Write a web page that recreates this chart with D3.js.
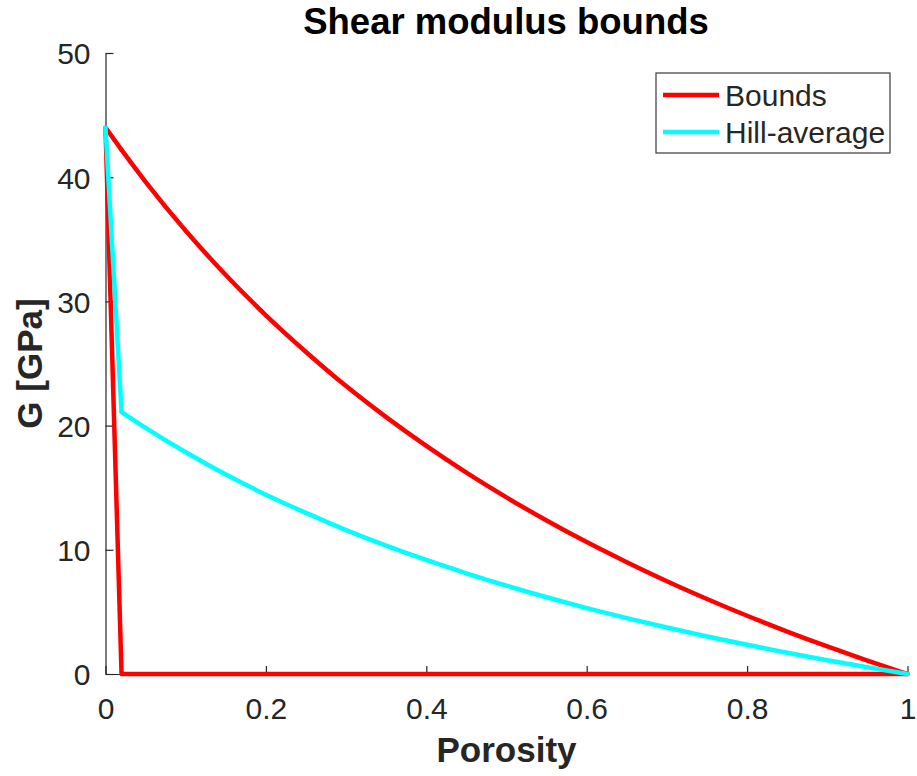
<!DOCTYPE html>
<html>
<head>
<meta charset="utf-8">
<script src="https://cdn.jsdelivr.net/npm/d3@7"></script>
<style>
  html, body { margin: 0; padding: 0; background: #fff; }
  svg { display: block; font-family: "Liberation Sans", Arial, Helvetica, sans-serif; }
</style>
</head>
<body>
<svg id="chart" width="917" height="776"></svg>
<script>
// Porosity samples and shear modulus values (GPa)
const porosity = [0, 0.02, 0.05, 0.1, 0.15, 0.2, 0.25, 0.3, 0.35, 0.4, 0.45, 0.5,
                  0.55, 0.6, 0.65, 0.7, 0.75, 0.8, 0.85, 0.9, 0.95, 1];
const upperBound = [44.00, 42.20, 39.63, 35.69, 32.12, 28.88, 25.93, 23.18, 20.68, 18.36, 16.21, 14.22,
                    12.36, 10.62, 9.00, 7.47, 6.04, 4.69, 3.42, 2.22, 1.08, 0];
const hillAverage = [44.00, 21.10, 19.82, 17.85, 16.06, 14.44, 12.97, 11.59, 10.34, 9.18, 8.11, 7.11,
                     6.18, 5.31, 4.50, 3.74, 3.02, 2.35, 1.71, 1.11, 0.54, 0];
const lowerPorosity = [0, 0.02, 1];
const lowerBound = [44.0, 0, 0];

const xTicks = [0, 0.2, 0.4, 0.6, 0.8, 1];
const yTicks = [0, 10, 20, 30, 40, 50];
const legendLabels = ["Bounds", "Hill-average"];
const seriesColors = ["#ff0000", "#00ffff"];

const svg = d3.select("#chart");
const plot = { left: 105.5, right: 907.5, top: 53, bottom: 674 };

const x = d3.scaleLinear().domain([0, 1]).range([plot.left, plot.right]);
const y = d3.scaleLinear().domain([0, 50]).range([plot.bottom, plot.top]);

const axisColor = "#262626";
const tickLen = 8;
const lineWidth = 4.5;

// Axes with inward ticks
const gx = svg.append("g").attr("transform", `translate(0,${plot.bottom})`)
  .call(d3.axisBottom(x).tickValues(xTicks).tickSizeInner(-tickLen).tickSizeOuter(0)
    .tickPadding(24).tickFormat(d => d3.format("")(d)));
const gy = svg.append("g").attr("transform", `translate(${plot.left},0)`)
  .call(d3.axisLeft(y).tickValues(yTicks).tickSizeInner(-tickLen).tickSizeOuter(0)
    .tickPadding(15));

[gx, gy].forEach(g => {
  g.select(".domain").attr("stroke", axisColor).attr("stroke-width", 1.2);
  g.selectAll(".tick line").attr("stroke", axisColor).attr("stroke-width", 1.2);
  g.selectAll(".tick text").attr("fill", axisColor).style("font-size", "30px");
});
gx.selectAll(".tick text").attr("dy", "0.71em");
gy.selectAll(".tick text").attr("dy", "0.36em");

// Curves: the first segment (0 to 0.02) is straight, the rest is smoothed
const straight = d3.line().x(d => x(d[0])).y(d => y(d[1]));
const smooth = d3.line().x(d => x(d[0])).y(d => y(d[1])).curve(d3.curveMonotoneX);
const upperPts = porosity.map((p, i) => [p, upperBound[i]]);
const lowerPts = lowerPorosity.map((p, i) => [p, lowerBound[i]]);
const hillPts = porosity.map((p, i) => [p, hillAverage[i]]);

function drawSeries(pts, color) {
  const g = svg.append("g").attr("fill", "none").attr("stroke", color)
    .attr("stroke-width", lineWidth).attr("stroke-linejoin", "round").attr("stroke-linecap", "round");
  g.append("path").attr("d", straight(pts.slice(0, 2)));
  g.append("path").attr("d", smooth(pts.slice(1)));
}

drawSeries(upperPts, seriesColors[0]);
svg.append("path").datum(lowerPts).attr("d", straight)
  .attr("fill", "none").attr("stroke", seriesColors[0]).attr("stroke-width", lineWidth)
  .attr("stroke-linejoin", "round");
drawSeries(hillPts, seriesColors[1]);

// Title and axis labels
svg.append("text").attr("x", 506).attr("y", 34)
  .attr("text-anchor", "middle").style("font-size", "36.5px").style("font-weight", "bold")
  .attr("fill", "#000").text("Shear modulus bounds");
svg.append("text").attr("x", (plot.left + plot.right) / 2).attr("y", 762)
  .attr("text-anchor", "middle").style("font-size", "35px").style("font-weight", "bold")
  .attr("fill", axisColor).text("Porosity");
svg.append("text").attr("transform", `translate(42,${(plot.top + plot.bottom) / 2}) rotate(-90)`)
  .attr("text-anchor", "middle").style("font-size", "35px").style("font-weight", "bold")
  .attr("fill", axisColor).text("G [GPa]");

// Legend
const legend = svg.append("g");
legend.append("rect").attr("x", 656).attr("y", 73).attr("width", 234).attr("height", 80)
  .attr("fill", "#fff").attr("stroke", "#3a3a3a").attr("stroke-width", 1.2);
legendLabels.forEach((lab, i) => {
  const cy = 95 + i * 37;
  legend.append("line").attr("x1", 663).attr("x2", 719).attr("y1", cy).attr("y2", cy)
    .attr("stroke", seriesColors[i]).attr("stroke-width", lineWidth);
  legend.append("text").attr("x", 725).attr("y", cy + 11)
    .style("font-size", "30px").attr("fill", axisColor).text(lab);
});
</script>
</body>
</html>
